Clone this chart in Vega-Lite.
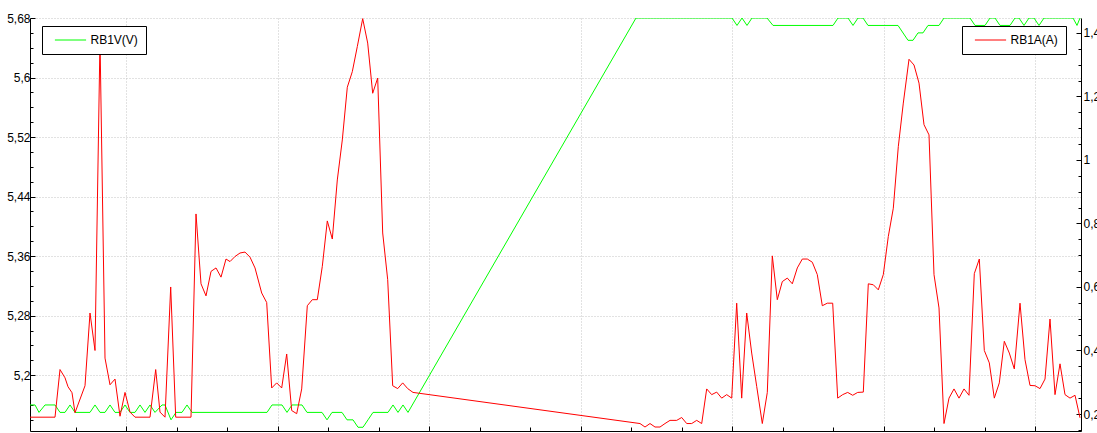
{
  "$schema": "https://vega.github.io/schema/vega-lite/v6.json",
  "width": 1051,
  "height": 413,
  "autosize": {"type": "none"},
  "padding": {"left": 30, "top": 18, "right": 16, "bottom": 2},
  "background": "white",
  "config": {
    "view": {"stroke": null},
    "font": "Liberation Sans",
    "axis": {"labelFont": "Liberation Sans", "labelFontSize": 12, "labelColor": "#000", "domainColor": "#000", "domainWidth": 1, "tickColor": "#000", "tickWidth": 1, "title": null, "labelOverlap": false, "labelFlush": false},
    "legend": {"title": null, "orient": "none", "legendY": 8, "symbolType": "M-5.2,0H5.2", "symbolSize": 36, "symbolStrokeWidth": 1, "symbolOffset": 14.5, "labelOffset": 14, "padding": 8, "strokeColor": "#000", "fillColor": "#fff", "labelFont": "Liberation Sans", "labelFontSize": 12, "labelColor": "#000"}
  },
  "datasets": {
    "volt": [
      {"t": 30, "v": 5.16}, {"t": 35, "v": 5.16}, {"t": 39, "v": 5.15}, {"t": 45, "v": 5.16}, {"t": 55, "v": 5.16},
      {"t": 60, "v": 5.15}, {"t": 65, "v": 5.15}, {"t": 70, "v": 5.16}, {"t": 75, "v": 5.15}, {"t": 90, "v": 5.15},
      {"t": 95, "v": 5.16}, {"t": 100, "v": 5.15}, {"t": 105, "v": 5.15}, {"t": 110, "v": 5.16}, {"t": 115, "v": 5.15},
      {"t": 120, "v": 5.15}, {"t": 125, "v": 5.16}, {"t": 130, "v": 5.15}, {"t": 135, "v": 5.15}, {"t": 140, "v": 5.16},
      {"t": 145, "v": 5.15}, {"t": 150, "v": 5.16}, {"t": 155, "v": 5.15}, {"t": 162, "v": 5.16}, {"t": 165, "v": 5.16},
      {"t": 171, "v": 5.14}, {"t": 176, "v": 5.15}, {"t": 182, "v": 5.15}, {"t": 187, "v": 5.16}, {"t": 192, "v": 5.15},
      {"t": 267, "v": 5.15}, {"t": 272, "v": 5.16}, {"t": 282, "v": 5.16}, {"t": 287, "v": 5.15}, {"t": 292, "v": 5.16},
      {"t": 302, "v": 5.16}, {"t": 307, "v": 5.15}, {"t": 322, "v": 5.15}, {"t": 327, "v": 5.14}, {"t": 332, "v": 5.15},
      {"t": 342, "v": 5.15}, {"t": 347, "v": 5.14}, {"t": 353, "v": 5.14}, {"t": 358, "v": 5.13}, {"t": 363, "v": 5.13},
      {"t": 368, "v": 5.14}, {"t": 373, "v": 5.15}, {"t": 388, "v": 5.15}, {"t": 393, "v": 5.16}, {"t": 398, "v": 5.15},
      {"t": 403, "v": 5.16}, {"t": 408, "v": 5.15}, {"t": 636, "v": 5.68}, {"t": 732, "v": 5.68}, {"t": 737, "v": 5.67},
      {"t": 742, "v": 5.68}, {"t": 747, "v": 5.67}, {"t": 752, "v": 5.68}, {"t": 767, "v": 5.68}, {"t": 773, "v": 5.67},
      {"t": 833, "v": 5.67}, {"t": 838, "v": 5.68}, {"t": 848, "v": 5.68}, {"t": 853, "v": 5.67}, {"t": 858, "v": 5.68},
      {"t": 863, "v": 5.68}, {"t": 868, "v": 5.67}, {"t": 898, "v": 5.67}, {"t": 908, "v": 5.65}, {"t": 913, "v": 5.65},
      {"t": 918, "v": 5.66}, {"t": 923, "v": 5.66}, {"t": 928, "v": 5.67}, {"t": 939, "v": 5.67}, {"t": 944, "v": 5.68},
      {"t": 970, "v": 5.68}, {"t": 975, "v": 5.67}, {"t": 985, "v": 5.67}, {"t": 990, "v": 5.68}, {"t": 995, "v": 5.68},
      {"t": 1000, "v": 5.67}, {"t": 1010, "v": 5.67}, {"t": 1015, "v": 5.68}, {"t": 1019, "v": 5.68}, {"t": 1024, "v": 5.67},
      {"t": 1029, "v": 5.68}, {"t": 1034, "v": 5.68}, {"t": 1039, "v": 5.67}, {"t": 1044, "v": 5.68}, {"t": 1073, "v": 5.68},
      {"t": 1077, "v": 5.67}, {"t": 1080, "v": 5.68}
    ],
    "amp": [
      {"t": 30, "a": 0.19}, {"t": 55, "a": 0.19}, {"t": 60, "a": 0.34}, {"t": 65, "a": 0.314}, {"t": 68, "a": 0.286},
      {"t": 72, "a": 0.267}, {"t": 75, "a": 0.204}, {"t": 85, "a": 0.289}, {"t": 90, "a": 0.518}, {"t": 95, "a": 0.4},
      {"t": 100, "a": 1.38}, {"t": 105, "a": 0.376}, {"t": 110, "a": 0.292}, {"t": 115, "a": 0.31}, {"t": 120, "a": 0.193},
      {"t": 125, "a": 0.268}, {"t": 130, "a": 0.206}, {"t": 135, "a": 0.19}, {"t": 150, "a": 0.19}, {"t": 155.7, "a": 0.34},
      {"t": 160, "a": 0.206}, {"t": 165, "a": 0.19}, {"t": 170.7, "a": 0.6}, {"t": 175.7, "a": 0.19}, {"t": 191, "a": 0.19},
      {"t": 196, "a": 0.83}, {"t": 201, "a": 0.61}, {"t": 206, "a": 0.572}, {"t": 211, "a": 0.649}, {"t": 216, "a": 0.66},
      {"t": 221, "a": 0.631}, {"t": 226, "a": 0.688}, {"t": 230, "a": 0.68}, {"t": 235, "a": 0.696}, {"t": 240, "a": 0.707},
      {"t": 245, "a": 0.71}, {"t": 250, "a": 0.694}, {"t": 255, "a": 0.66}, {"t": 261.7, "a": 0.581}, {"t": 266.7, "a": 0.551},
      {"t": 271.7, "a": 0.282}, {"t": 276.7, "a": 0.298}, {"t": 281.7, "a": 0.282}, {"t": 286.7, "a": 0.389}, {"t": 291.7, "a": 0.211},
      {"t": 296.7, "a": 0.201}, {"t": 301.7, "a": 0.279}, {"t": 307.3, "a": 0.541}, {"t": 312.3, "a": 0.56}, {"t": 317.3, "a": 0.56},
      {"t": 322.3, "a": 0.665}, {"t": 327.3, "a": 0.808}, {"t": 332.3, "a": 0.751}, {"t": 337.3, "a": 0.937}, {"t": 342.3, "a": 1.063},
      {"t": 347.3, "a": 1.229}, {"t": 352.3, "a": 1.278}, {"t": 357.3, "a": 1.357}, {"t": 362.7, "a": 1.445}, {"t": 367.7, "a": 1.368},
      {"t": 372.7, "a": 1.21}, {"t": 377.7, "a": 1.258}, {"t": 382.7, "a": 0.77}, {"t": 387.7, "a": 0.623}, {"t": 392.7, "a": 0.289},
      {"t": 397.7, "a": 0.28}, {"t": 402.7, "a": 0.298}, {"t": 407.7, "a": 0.28}, {"t": 413, "a": 0.268}, {"t": 640, "a": 0.17},
      {"t": 645, "a": 0.159}, {"t": 650, "a": 0.17}, {"t": 655, "a": 0.159}, {"t": 660, "a": 0.159}, {"t": 665, "a": 0.17},
      {"t": 670, "a": 0.18}, {"t": 676.7, "a": 0.18}, {"t": 681.7, "a": 0.189}, {"t": 686.7, "a": 0.17}, {"t": 691.7, "a": 0.17},
      {"t": 696.7, "a": 0.18}, {"t": 701.7, "a": 0.17}, {"t": 706.7, "a": 0.279}, {"t": 711.7, "a": 0.261}, {"t": 716.7, "a": 0.269},
      {"t": 721.7, "a": 0.25}, {"t": 726.7, "a": 0.261}, {"t": 731.7, "a": 0.25}, {"t": 736.7, "a": 0.549}, {"t": 741.7, "a": 0.25},
      {"t": 746.7, "a": 0.518}, {"t": 751.7, "a": 0.392}, {"t": 756.7, "a": 0.287}, {"t": 762.3, "a": 0.17}, {"t": 767.3, "a": 0.268},
      {"t": 772.3, "a": 0.698}, {"t": 777.3, "a": 0.56}, {"t": 782.3, "a": 0.617}, {"t": 787.3, "a": 0.628}, {"t": 792.3, "a": 0.61},
      {"t": 797.3, "a": 0.66}, {"t": 802.3, "a": 0.688}, {"t": 807.3, "a": 0.688}, {"t": 812.3, "a": 0.678}, {"t": 817.3, "a": 0.639},
      {"t": 822.3, "a": 0.541}, {"t": 827.3, "a": 0.549}, {"t": 832.7, "a": 0.549}, {"t": 837.7, "a": 0.25}, {"t": 842.7, "a": 0.261},
      {"t": 847.7, "a": 0.268}, {"t": 852.7, "a": 0.259}, {"t": 857.7, "a": 0.268}, {"t": 863.3, "a": 0.269}, {"t": 868.3, "a": 0.61},
      {"t": 873.3, "a": 0.607}, {"t": 878.3, "a": 0.591}, {"t": 883.3, "a": 0.639}, {"t": 888.3, "a": 0.759}, {"t": 893.3, "a": 0.848},
      {"t": 898.3, "a": 1.042}, {"t": 903.3, "a": 1.179}, {"t": 909, "a": 1.317}, {"t": 914, "a": 1.299}, {"t": 919, "a": 1.242},
      {"t": 924, "a": 1.111}, {"t": 929, "a": 1.079}, {"t": 934, "a": 0.639}, {"t": 939, "a": 0.534}, {"t": 944, "a": 0.17},
      {"t": 949, "a": 0.25}, {"t": 954, "a": 0.279}, {"t": 959, "a": 0.25}, {"t": 964, "a": 0.279}, {"t": 969, "a": 0.259},
      {"t": 974.3, "a": 0.642}, {"t": 979.3, "a": 0.688}, {"t": 984.3, "a": 0.4}, {"t": 989.3, "a": 0.361}, {"t": 994.3, "a": 0.25},
      {"t": 999.3, "a": 0.298}, {"t": 1004.3, "a": 0.429}, {"t": 1009.3, "a": 0.392}, {"t": 1014.3, "a": 0.342}, {"t": 1020, "a": 0.549},
      {"t": 1025, "a": 0.371}, {"t": 1030, "a": 0.29}, {"t": 1035, "a": 0.289}, {"t": 1040, "a": 0.28}, {"t": 1045, "a": 0.31},
      {"t": 1050, "a": 0.499}, {"t": 1055, "a": 0.261}, {"t": 1060, "a": 0.358}, {"t": 1065, "a": 0.261}, {"t": 1070, "a": 0.25},
      {"t": 1075, "a": 0.259}, {"t": 1080, "a": 0.188}
    ]
  },
  "layer": [
    {
      "data": {"name": "volt"},
      "mark": {"type": "line", "strokeWidth": 1, "clip": true},
      "encoding": {
        "x": {
          "field": "t", "type": "quantitative",
          "scale": {"domain": [30, 1081], "nice": false, "zero": false},
          "axis": {
            "values": [75.5, 126, 176.5, 227, 277.5, 328, 378.5, 429, 479.5, 530, 580.5, 631, 681.5, 732, 782.5, 833, 883.5, 934, 984.5, 1035],
            "labels": false,
            "tickSize": {"condition": {"test": "indexof([126, 277.5, 429, 580.5, 732, 883.5, 1035], datum.value) >= 0", "value": -5}, "value": -4},
            "grid": true, "gridColor": "#c4c4c4", "gridDash": [1, 2],
            "gridOpacity": {"condition": {"test": "indexof([126, 277.5, 429, 580.5, 732, 883.5, 1035], datum.value) >= 0", "value": 1}, "value": 0}
          }
        },
        "y": {
          "field": "v", "type": "quantitative",
          "scale": {"domain": [5.125, 5.68], "nice": false, "zero": false},
          "axis": {
            "orient": "left",
            "values": [5.14, 5.16, 5.18, 5.2, 5.22, 5.24, 5.26, 5.28, 5.3, 5.32, 5.34, 5.36, 5.38, 5.4, 5.42, 5.44, 5.46, 5.48, 5.5, 5.52, 5.54, 5.56, 5.58, 5.6, 5.62, 5.64, 5.66, 5.68],
            "labelExpr": "abs((datum.value - 5.2) / 0.08 - round((datum.value - 5.2) / 0.08)) < 0.05 ? replace(format(datum.value, '.2~f'), '.', ',') : ''",
            "labelPadding": 5,
            "tickSize": {"condition": {"test": "abs((datum.value - 5.2) / 0.08 - round((datum.value - 5.2) / 0.08)) < 0.05", "value": -5}, "value": -3},
            "grid": true, "gridColor": "#c4c4c4", "gridDash": [1, 2],
            "gridOpacity": {"condition": {"test": "abs((datum.value - 5.2) / 0.08 - round((datum.value - 5.2) / 0.08)) < 0.05", "value": 1}, "value": 0}
          }
        },
        "color": {
          "datum": "RB1V(V)", "type": "nominal",
          "scale": {"range": ["#00ff00"]},
          "legend": {"legendX": 12}
        }
      }
    },
    {
      "data": {"name": "amp"},
      "mark": {"type": "line", "strokeWidth": 1, "clip": true},
      "encoding": {
        "x": {"field": "t", "type": "quantitative"},
        "y": {
          "field": "a", "type": "quantitative",
          "scale": {"domain": [0.1465, 1.447], "nice": false, "zero": false},
          "axis": {
            "orient": "right",
            "values": [0.15, 0.2, 0.25, 0.3, 0.35, 0.4, 0.45, 0.5, 0.55, 0.6, 0.65, 0.7, 0.75, 0.8, 0.85, 0.9, 0.95, 1, 1.05, 1.1, 1.15, 1.2, 1.25, 1.3, 1.35, 1.4],
            "labelExpr": "abs(datum.value / 0.2 - round(datum.value / 0.2)) < 0.05 ? replace(format(datum.value, '.1~f'), '.', ',') : ''",
            "labelPadding": 7,
            "tickSize": {"condition": {"test": "abs(datum.value / 0.2 - round(datum.value / 0.2)) < 0.05", "value": -5}, "value": -3},
            "grid": false
          }
        },
        "color": {
          "datum": "RB1A(A)", "type": "nominal",
          "scale": {"range": ["#ff0000"]},
          "legend": {"legendX": 932}
        }
      }
    }
  ],
  "resolve": {"scale": {"y": "independent", "color": "independent"}}
}
